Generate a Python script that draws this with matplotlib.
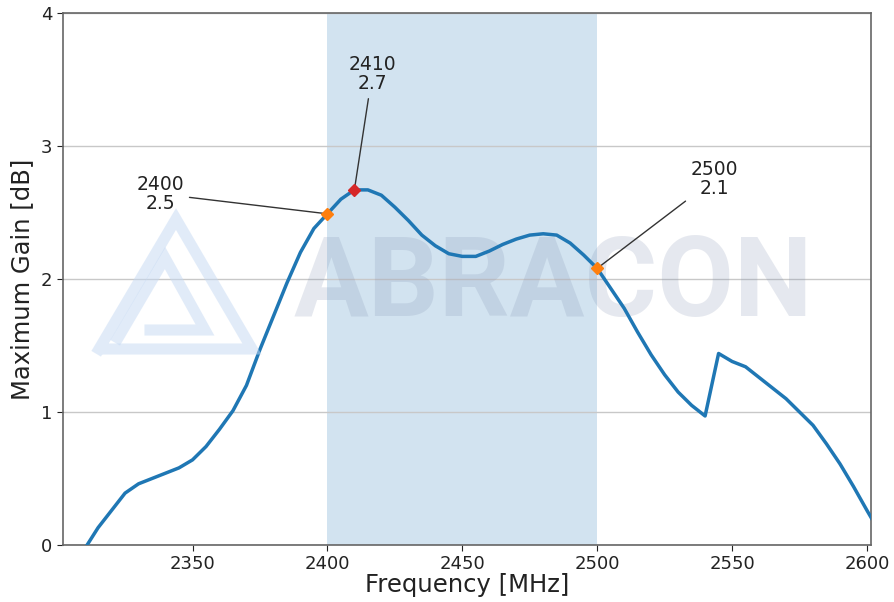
import matplotlib.pyplot as plt
from matplotlib.lines import Line2D

# Gain curve (5 MHz steps)
freq = [2310, 2315, 2320, 2325, 2330, 2335, 2340, 2345, 2350, 2355,
        2360, 2365, 2370, 2375, 2380, 2385, 2390, 2395, 2400, 2405,
        2410, 2415, 2420, 2425, 2430, 2435, 2440, 2445, 2450, 2455,
        2460, 2465, 2470, 2475, 2480, 2485, 2490, 2495, 2500, 2505,
        2510, 2515, 2520, 2525, 2530, 2535, 2540, 2545, 2550, 2555,
        2560, 2565, 2570, 2575, 2580, 2585, 2590, 2595, 2600, 2602]
gain = [-0.03, 0.13, 0.26, 0.39, 0.46, 0.50, 0.54, 0.58, 0.64, 0.74,
        0.87, 1.01, 1.20, 1.47, 1.72, 1.97, 2.20, 2.38, 2.49, 2.60,
        2.67, 2.67, 2.63, 2.54, 2.44, 2.33, 2.25, 2.19, 2.17, 2.17,
        2.21, 2.26, 2.30, 2.33, 2.34, 2.33, 2.27, 2.18, 2.08, 1.93,
        1.78, 1.60, 1.43, 1.28, 1.15, 1.05, 0.97, 1.44, 1.38, 1.34,
        1.26, 1.18, 1.10, 1.00, 0.90, 0.76, 0.61, 0.44, 0.26, 0.19]

band = [2400, 2500]

# marked points
marks_f = [2400, 2410, 2500]
marks_g = [2.49, 2.67, 2.08]
marks_lbl = ["2400\n2.5", "2410\n2.7", "2500\n2.1"]
marks_col = ["tab:orange", "tab:red", "tab:orange"]
text_pos = [(2338, 2.64), (2416.6, 3.54), (2543.4, 2.75)]

fig = plt.figure(figsize=(8.95, 6.02), dpi=100)
ax = fig.add_axes([0.0704, 0.0947, 0.9028, 0.8837])

ax.axvspan(band[0], band[1], color="tab:blue", alpha=0.2, lw=0, zorder=0)

# watermark
ax.text(0.607, 0.487, "ABRACON", transform=ax.transAxes, fontsize=80,
        fontweight="bold", family="Roboto", color="#8090b0", alpha=0.2,
        ha="center", va="center", zorder=0.6)
logo_col = "#c5d9f3"
W, H = 895.0, 602.0
def px(pts):
    return [p[0] / W for p in pts], [1 - p[1] / H for p in pts]
for pts in ([(99, 349), (176, 219), (252, 349), (105, 349)],
            [(118, 338), (165, 258), (205, 330), (150, 330)]):
    xs, ys = px(pts)
    fig.add_artist(Line2D(xs, ys, color=logo_col, lw=8, alpha=0.5,
                          solid_joinstyle="miter", zorder=0.6))

ax.plot(freq, gain, color="tab:blue", lw=2.5, zorder=3)

for f, g, lbl, c, tp in zip(marks_f, marks_g, marks_lbl, marks_col, text_pos):
    ax.plot(f, g, marker="D", color=c, markersize=6.5, zorder=4, ls="none")
    ax.annotate(lbl, xy=(f, g), xytext=tp, ha="center", va="center",
                fontsize=13.5, color="#222222", linespacing=1.0,
                arrowprops=dict(arrowstyle="-", color="#333333", lw=1,
                                shrinkB=3))

ax.set_xlim(2302, 2601.5)
ax.set_ylim(0, 4)
ax.set_xticks([2350, 2400, 2450, 2500, 2550, 2600])
ax.set_yticks([0, 1, 2, 3, 4])
ax.grid(axis="y", color="#c8c8c8", lw=1)
ax.set_axisbelow(True)
ax.tick_params(labelsize=13, colors="#222222", length=4)
for s in ax.spines.values():
    s.set_color("#666666")
    s.set_linewidth(1.2)

ax.set_xlabel("Frequency [MHz]", fontsize=17.5, color="#222222", labelpad=0)
ax.set_ylabel("Maximum Gain [dB]", fontsize=17.5, color="#222222", labelpad=5)

fig.savefig("out.png", dpi=100)
